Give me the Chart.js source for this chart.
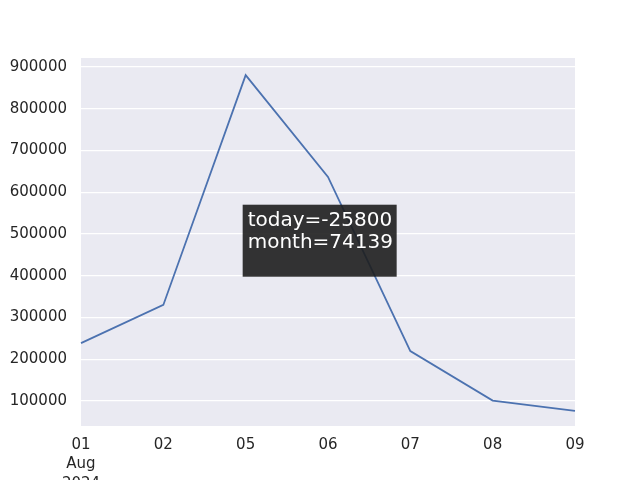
<!DOCTYPE html>
<html>
<head>
<meta charset="utf-8">
<script src="https://cdn.jsdelivr.net/npm/chart.js@4/dist/chart.umd.min.js"></script>
<style>
  html, body { margin: 0; padding: 0; background: #fff; }
  #wrap { width: 640px; height: 480px; }
</style>
</head>
<body>
<div id="wrap"><canvas id="c" width="640" height="480"></canvas></div>
<script>
  // data
  const dayLabels = [["01", "Aug", "2024"], "02", "05", "06", "07", "08", "09"];
  const values = [238500, 330000, 880500, 636500, 219500, 101000, 76000];
  const yTicks = [100000, 200000, 300000, 400000, 500000, 600000, 700000, 800000, 900000];
  const noteLines = ["today=-25800", "month=74139"];
  const noteAt = { x: 2, y: 400000 };

  const FONT = "'DejaVu Sans', sans-serif";

  /* background of the plot area + annotation box */
  const seabornBg = {
    id: "seabornBg",
    beforeDraw(chart) {
      const { ctx, chartArea: a } = chart;
      ctx.save();
      ctx.fillStyle = "#EAEAF2";
      ctx.fillRect(a.left, a.top, a.right - a.left, a.bottom - a.top);
      ctx.restore();
    },
    afterDatasetsDraw(chart) {
      const { ctx } = chart;
      const x = chart.scales.x.getPixelForValue(noteAt.x);
      const y = chart.scales.y.getPixelForValue(noteAt.y);
      const left = x - 3, bottom = y + 1;
      const w = 154, h = 72;
      ctx.save();
      ctx.fillStyle = "rgba(30,30,30,0.9)";
      ctx.fillRect(left, bottom - h, w, h);
      ctx.fillStyle = "#ffffff";
      ctx.font = "20px " + FONT;
      ctx.textBaseline = "alphabetic";
      noteLines.forEach((t, i) => ctx.fillText(t, left + 5, bottom - h + 21 + i * 22));
      ctx.restore();
    }
  };

  new Chart(document.getElementById("c"), {
    type: "line",
    data: {
      labels: dayLabels,
      datasets: [{
        data: values,
        borderColor: "#4C72B0",
        borderWidth: 1.8,
        pointRadius: 0,
        tension: 0,
        fill: false
      }]
    },
    options: {
      responsive: false,
      animation: false,
      layout: { padding: { top: 58, right: 65, left: 0, bottom: 0 } },
      plugins: { legend: { display: false }, tooltip: { enabled: false } },
      scales: {
        x: {
          type: "category",
          offset: false,
          grid: { display: false, drawTicks: false },
          border: { display: false },
          afterFit(s) { s.height = 54; },
          ticks: {
            color: "#262626",
            font: { family: FONT, size: 15, lineHeight: 1.27 },
            padding: 10,
            maxRotation: 0,
            autoSkip: false
          }
        },
        y: {
          min: 40000,
          max: 921500,
          grid: { color: "#ffffff", lineWidth: 1.2, drawTicks: false },
          border: { display: false },
          afterFit(s) { s.width = 81; },
          afterBuildTicks(s) { s.ticks = yTicks.map(v => ({ value: v })); },
          ticks: {
            color: "#262626",
            font: { family: FONT, size: 15 },
            padding: 14,
            callback: v => String(v)
          }
        }
      }
    },
    plugins: [seabornBg]
  });
</script>
</body>
</html>
